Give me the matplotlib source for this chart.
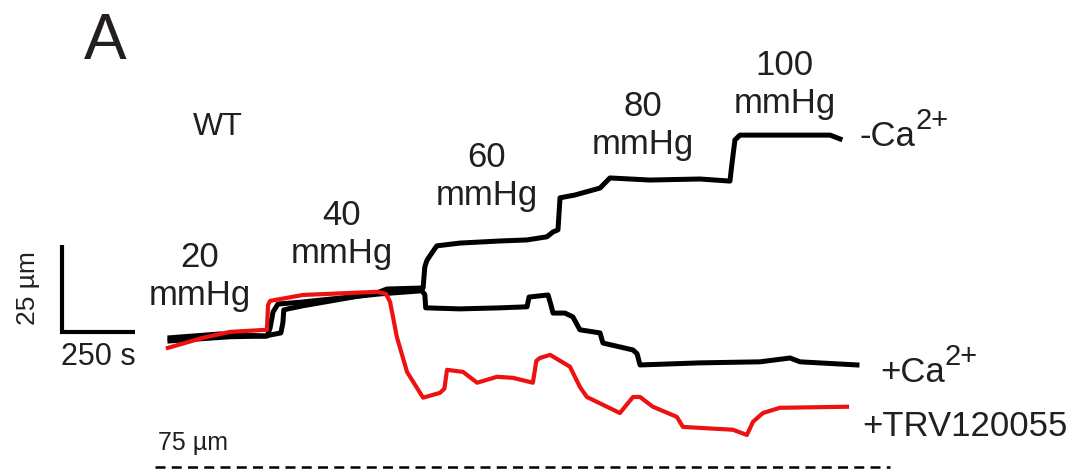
import matplotlib
matplotlib.use("Agg")
import matplotlib.pyplot as plt

plt.rcParams['font.family'] = ['Liberation Sans', 'DejaVu Sans']

# time (s) and diameter change (um)
t_noca = [0, 171, 325, 380, 387, 390, 404, 456, 709, 743, 867, 873, 880, 890, 914, 993, 1130, 1223,
          1291, 1312, 1329, 1336, 1387, 1473, 1507, 1644, 1815, 1918, 1924, 1935, 1952, 2261, 2295]
d_noca = [0.6, 1.7, 1.1, 2.0, 5.0, 8.6, 8.9, 9.8, 13.5, 14.6, 14.9, 21.0, 22.8, 24.1, 27.0, 27.8,
          28.4, 28.7, 29.6, 31.0, 31.6, 40.8, 41.6, 43.6, 46.5, 45.9, 46.2, 45.6, 50.0, 57.4, 58.8,
          58.8, 57.7]

t_ca = [0, 206, 333, 343, 353, 370, 445, 719, 863, 873, 876, 993, 1130, 1223, 1230, 1295,
        1305, 1312, 1353, 1380, 1404, 1473, 1483, 1586, 1600, 1610, 1815, 2021, 2124, 2158, 2353]
d_ca = [-0.3, 0.9, 1.1, 3.4, 8.0, 10.3, 10.8, 13.2, 14.1, 13.0, 9.2, 8.9, 9.2, 9.5, 12.3, 12.9,
        10.0, 7.7, 7.7, 6.6, 2.9, 2.0, -0.9, -2.9, -4.0, -7.2, -6.6, -6.3, -5.2, -6.3, -7.2]

t_trv = [-7, 113, 206, 332, 336, 343, 456, 709, 740, 754, 777, 812, 867, 925, 940, 949, 1004,
         1052, 1120, 1175, 1243, 1255, 1267, 1302, 1370, 1404, 1428, 1541, 1586, 1610, 1654,
         1736, 1757, 1928, 1976, 1997, 2031, 2089, 2319]
d_trv = [-2.3, 0.6, 2.3, 2.9, 10.0, 11.2, 12.9, 13.8, 13.2, 10.9, 0.9, -9.2, -16.6, -15.2,
         -14.0, -8.6, -9.2, -12.3, -10.6, -10.9, -12.3, -6.0, -5.2, -4.3, -7.7, -13.5, -16.4,
         -21.0, -16.4, -16.4, -19.2, -22.1, -25.0, -25.8, -27.3, -23.5, -21.0, -19.5, -19.2]

pressures = ["20", "40", "60", "80", "100"]
press_t = [103, 589, 1085, 1620, 2106]
press_d = [18.3, 30.3, 46.9, 61.5, 73.4]

bar_t, bar_d = 250, 25
trace_labels = ["-Ca", "+Ca", "+TRV120055"]
trace_sup = ["2+", "2+", ""]

fig = plt.figure(figsize=(10.85, 4.75), dpi=100)
ax = fig.add_axes([0, 0, 1, 1])
ax.set_xlim(-582, 3134)
ax.set_ylim(-38.8, 97.6)
ax.axis('off')

txt = '#231f20'
ax.plot(t_ca, d_ca, color='black', lw=3.6, solid_joinstyle='round')
ax.plot(t_noca, d_noca, color='black', lw=3.6, solid_joinstyle='round')
ax.plot(t_trv, d_trv, color='#ee1111', lw=3.0, solid_joinstyle='round')

# scale bars
x0, y0 = -370, 2.3
ax.plot([x0, x0, x0 + bar_t], [y0 + bar_d, y0, y0], color='black', lw=3,
        solid_joinstyle='miter', solid_capstyle='butt')
ax.text(x0 + bar_t / 2, y0 - 3, f"{bar_t} s", ha='center', va='top', fontsize=22, color=txt)
ax.text(x0 - 115, y0 + bar_d / 2, "25 µm", ha='center', va='center', rotation=90,
        fontsize=19, color=txt)

# dashed reference line
ax.plot([-51, 2466], [-36.4, -36.4], color='black', lw=1.8, ls=(0, (4, 2.5)))
ax.text(-40, -29.5, "75 µm", ha='left', va='center', fontsize=18, color=txt)

for p, tx, dy in zip(pressures, press_t, press_d):
    ax.text(tx, dy, f"{p}\nmmHg", ha='center', va='center', fontsize=25,
            color=txt, linespacing=1.2)

ax.text(164, 61.0, "WT", ha='center', va='center', fontsize=23, color=txt)
ax.text(-223, 85.5, "A", ha='center', va='center', fontsize=46, color=txt)

for lab, sup, tx, dy in zip(trace_labels, trace_sup, [2363, 2432, 2370], [58.5, -9.5, -25.0]):
    t = ax.text(tx, dy, lab, ha='left', va='center', fontsize=25, color=txt)
    if sup:
        ax.annotate(sup, xy=(1.0, 0.55), xycoords=t, ha='left', va='bottom',
                    fontsize=21, color=txt)

fig.savefig("out.png", dpi=100)
